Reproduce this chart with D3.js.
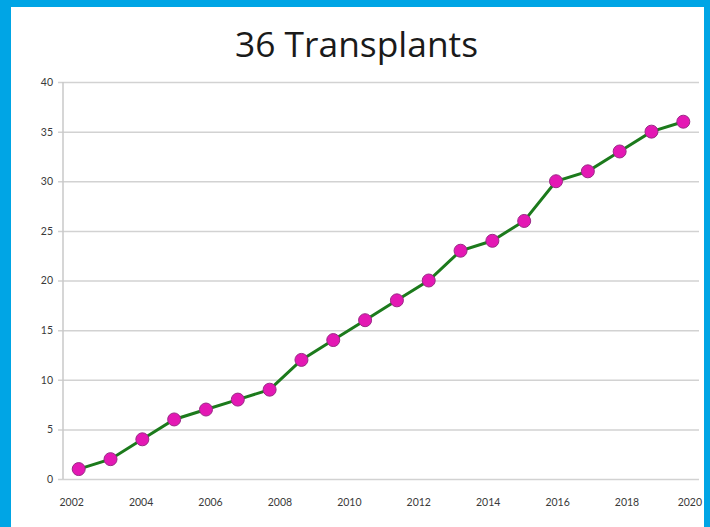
<!DOCTYPE html>
<meta charset="utf-8" />
<style>
    body {
        margin: 0;
        background: #ffffff;
    }

    text {
        font-family: Lato, 'Open Sans', sans-serif;
    }

    .axis text {
        font-size: 10.5px;
        fill: #3a3a3a;
    }

    .axis .domain {
        display: none;
    }

    .grid line {
        stroke: #d2d2d2;
        stroke-width: 1.5px;
    }
</style>

<svg width="710" height="527"></svg>

<script src="https://d3js.org/d3.v7.min.js"></script>
<script>
    const transplants = [1, 2, 4, 6, 7, 8, 9, 12, 14, 16, 18, 20, 23, 24, 26, 30, 31, 33, 35, 36];
    const yearLabels = [2002, 2004, 2006, 2008, 2010, 2012, 2014, 2016, 2018, 2020];
    const yTicks = [0, 5, 10, 15, 20, 25, 30, 35, 40];
    const title = '36 Transplants';

    function draw() {
        const svg = d3.select('svg');

        // blue frame: top, left, right
        svg.append('rect').attr('x', 0).attr('y', 0).attr('width', 710).attr('height', 527).attr('fill', '#00a5e5');
        svg.append('rect').attr('x', 11).attr('y', 7).attr('width', 693).attr('height', 520).attr('fill', '#ffffff');

        const x = d3.scalePoint().domain(d3.range(transplants.length)).range([78.7, 683.3]);
        const xYear = d3.scaleLinear().domain([2002, 2018]).range([71.7, 627]);
        const y = d3.scaleLinear().domain([0, 40]).range([479, 82]);

        const left = 63;
        const right = 699;

        // gridlines + y labels
        const yAxis = svg.append('g')
            .attr('class', 'axis grid')
            .attr('transform', `translate(${left},0)`)
            .call(d3.axisLeft(y).tickValues(yTicks).tickSize(-(right - left)).tickPadding(10));
        yAxis.selectAll('line').attr('x1', -5);

        // y axis line
        svg.append('line')
            .attr('x1', left).attr('x2', left)
            .attr('y1', y(40)).attr('y2', y(0))
            .attr('stroke', '#c8c8c8').attr('stroke-width', 1.5);

        // x labels
        svg.append('g').attr('class', 'axis')
            .selectAll('text')
            .data(yearLabels)
            .enter()
            .append('text')
            .attr('x', d => (d === 2020 ? 702 : xYear(d)))
            .attr('y', 506)
            .attr('text-anchor', d => (d === 2020 ? 'end' : 'middle'))
            .text(d => d);

        const line = d3.line()
            .x((d, i) => x(i))
            .y(d => y(d));

        svg.append('path')
            .datum(transplants)
            .attr('d', line)
            .attr('fill', 'none')
            .attr('stroke', '#1c7a1c')
            .attr('stroke-width', 3);

        svg.append('g')
            .selectAll('circle')
            .data(transplants)
            .enter()
            .append('circle')
            .attr('cx', (d, i) => x(i))
            .attr('cy', d => y(d))
            .attr('r', 6.5)
            .attr('fill', '#e418b4')
            .attr('stroke', '#9a2a86')
            .attr('stroke-width', 1);

        svg.append('text')
            .attr('x', 356.5)
            .attr('y', 57)
            .attr('text-anchor', 'middle')
            .attr('textLength', 243)
            .attr('lengthAdjust', 'spacingAndGlyphs')
            .style('font-family', "'Open Sans', sans-serif")
            .style('font-size', '34px')
            .attr('fill', '#1a1a1a')
            .text(title);
    }

    draw();
</script>
